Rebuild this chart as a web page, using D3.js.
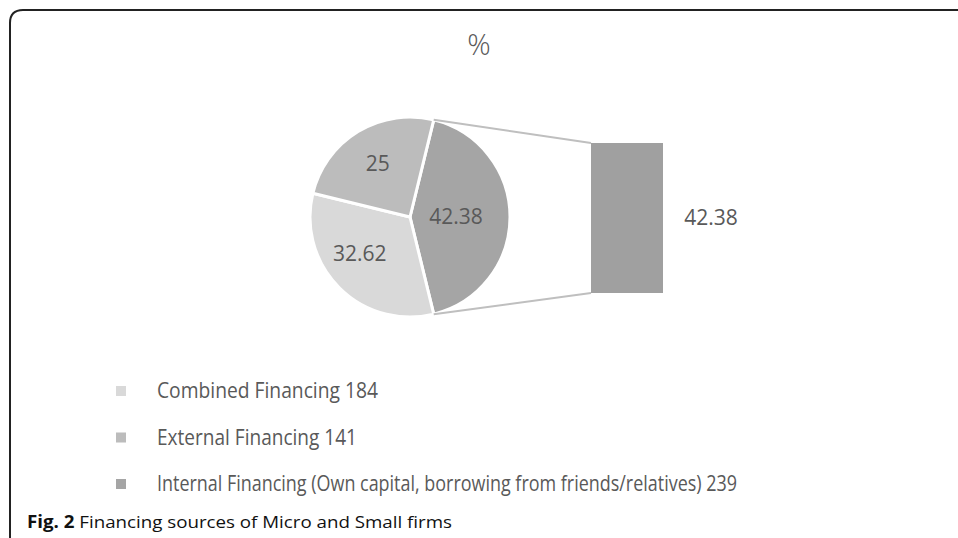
<!DOCTYPE html>
<html>
<head>
<meta charset="utf-8">
<script src="https://cdn.jsdelivr.net/npm/d3@7"></script>
<style>
  html, body { margin: 0; padding: 0; background: #fff; }
  svg { display: block; }
</style>
</head>
<body>
<svg id="chart" width="958" height="538"></svg>
<script>
// ---- data ----
const categories = ["Internal Financing (Own capital, borrowing from friends/relatives)", "Combined Financing", "External Financing"];
const percentages = [42.38, 32.62, 25];
const counts = [239, 184, 141];
const sliceLabels = ["42.38", "32.62", "25"];
const legendOrder = ["Combined Financing", "External Financing", "Internal Financing (Own capital, borrowing from friends/relatives)"];
const colors = ["#a5a5a5", "#d9d9d9", "#bcbcbc"];
const titleText = "%";
const captionBold = "Fig. 2";
const captionText = " Financing sources of Micro and Small firms";

const svg = d3.select("#chart");
const textColor = "#595959";
const font = "'Open Sans', 'Noto Sans', sans-serif";

// frame
svg.append("path")
  .attr("d", "M10,540 V23 Q10,10 23,10 H960")
  .attr("fill", "none").attr("stroke", "#222").attr("stroke-width", 2);

// title
svg.append("text").attr("x", 479).attr("y", 55)
  .attr("text-anchor", "middle").attr("font-family", font)
  .attr("font-size", 29).attr("font-weight", 300).attr("fill", textColor).text(titleText);

// pie
const cx = 410, cy = 217, r = 100;
const splitAngle = (percentages[0] / 100) * 2 * Math.PI;
const startRot = Math.PI / 2 - splitAngle / 2;
const pie = d3.pie().sort(null).value(d => d)
  .startAngle(startRot).endAngle(startRot + 2 * Math.PI);
const arcs = pie(percentages);
const arc = d3.arc().innerRadius(0).outerRadius(r);
const g = svg.append("g").attr("transform", `translate(${cx},${cy})`);
g.selectAll("path").data(arcs).enter().append("path")
  .attr("d", arc).attr("fill", (d, i) => colors[i])
  .attr("stroke", "#fff").attr("stroke-width", 3).attr("stroke-linejoin", "round");

// label placement (best-fit style): radius fraction and angular nudge (degrees)
const labelRadius = [0.46, 0.62, 0.62];
const labelNudge = [0, 9, 0];
g.selectAll("text").data(arcs).enter().append("text")
  .attr("transform", (d, i) => {
    const lr = r * labelRadius[i];
    const a = (d.startAngle + d.endAngle) / 2 + labelNudge[i] * Math.PI / 180;
    return `translate(${lr * Math.sin(a)},${-lr * Math.cos(a)})`;
  })
  .attr("text-anchor", "middle").attr("dy", "0.35em")
  .attr("font-family", font).attr("font-size", 21).attr("fill", textColor)
  .text((d, i) => sliceLabels[i]);

// bar of the split slice
const barX = 591, barW = 72, barTop = 143, barBottom = 293;
const y = d3.scaleLinear().domain([0, percentages[0]]).range([barBottom, barTop]);
svg.append("rect").attr("x", barX).attr("y", y(percentages[0]))
  .attr("width", barW).attr("height", y(0) - y(percentages[0]))
  .attr("fill", "#a0a0a0");
svg.append("text").attr("x", barX + barW + 48).attr("y", (barTop + barBottom) / 2)
  .attr("dy", "0.35em").attr("text-anchor", "middle")
  .attr("font-family", font).attr("font-size", 21).attr("fill", textColor)
  .text(sliceLabels[0]);

// connector lines
const a0 = arcs[0].startAngle, a1 = arcs[0].endAngle;
const p0 = [cx + r * Math.sin(a0), cy - r * Math.cos(a0)];
const p1 = [cx + r * Math.sin(a1), cy - r * Math.cos(a1)];
svg.append("line").attr("x1", p0[0]).attr("y1", p0[1]).attr("x2", barX).attr("y2", barTop)
  .attr("stroke", "#bfbfbf").attr("stroke-width", 2);
svg.append("line").attr("x1", p1[0]).attr("y1", p1[1]).attr("x2", barX).attr("y2", barBottom)
  .attr("stroke", "#bfbfbf").attr("stroke-width", 2);

// legend
const legY = d3.scalePoint().domain(legendOrder).range([391, 484]);
const legTargetW = { "Combined Financing": 221, "External Financing": 200, "Internal Financing (Own capital, borrowing from friends/relatives)": 580 };
legendOrder.forEach(name => {
  const i = categories.indexOf(name);
  const yy = legY(name);
  svg.append("rect").attr("x", 116).attr("y", yy - 5).attr("width", 10).attr("height", 10)
    .attr("fill", colors[i]);
  svg.append("text").attr("x", 157).attr("y", yy).attr("dy", "0.35em")
    .attr("font-family", font).attr("font-size", 21).attr("fill", textColor)
    .attr("textLength", legTargetW[name]).attr("lengthAdjust", "spacingAndGlyphs")
    .text(name + " " + counts[i]);
});

// caption
const cap = svg.append("text").attr("x", 27).attr("y", 528)
  .attr("font-family", font).attr("font-size", 17).attr("fill", "#111")
  .attr("textLength", 425).attr("lengthAdjust", "spacingAndGlyphs");
cap.append("tspan").attr("font-weight", "bold").text(captionBold);
cap.append("tspan").text(captionText);
</script>
</body>
</html>
